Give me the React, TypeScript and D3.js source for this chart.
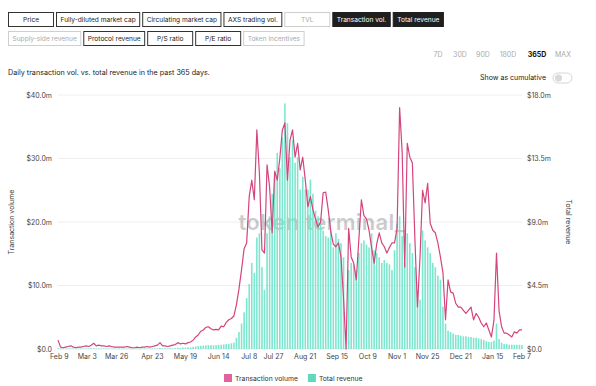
import * as d3 from 'd3';

// daily data sampled every second day, Feb 8 2021 -> Feb 7 2022
const startDate = new Date(2021, 1, 8);
const stepDays = 2;

// $m, left axis
const transactionVolume = [
  1.4, 0.3, 0.2, 0.3, 0.4, 0.5, 0.3, 0.2, 0.3, 0.3,
  0.4, 0.5, 0.4, 0.6, 0.9, 0.5, 0.6, 0.5, 0.5, 0.4,
  0.5, 0.4, 0.3, 0.3, 0.3, 0.3, 0.3, 0.4, 0.3, 0.2,
  0.2, 0.3, 0.2, 0.3, 0.3, 0.4, 0.3, 0.4, 0.5, 0.6,
  1.0, 0.5, 0.5, 0.4, 0.5, 0.6, 0.7, 1.0, 0.8, 0.9,
  0.8, 1.0, 1.1, 1.4, 1.9, 2.2, 2.8, 3.0, 3.4, 3.5,
  3.2, 3.0, 3.1, 3.0, 3.6, 3.5, 4.2, 4.6, 4.8, 5.2,
  7.0, 9.5, 12.5, 15.8, 16.7, 24.0, 26.6, 23.5, 34.5, 27.7,
  15.6, 15.1, 29.0, 25.5, 18.3, 28.0, 26.6, 30.0, 34.5, 35.6,
  26.6, 32.9, 34.5, 30.2, 32.4, 28.2, 30.2, 26.6, 22.4, 24.0,
  21.9, 20.5, 19.2, 20.0, 24.6, 24.7, 21.9, 18.5, 16.5, 16.1,
  16.7, 14.5, 8.0, 0.0, 19.0, 14.5, 13.5, 10.9, 17.2, 23.5,
  21.0, 20.5, 18.7, 16.0, 13.5, 16.5, 18.3, 16.7, 16.1, 15.1,
  16.0, 16.7, 16.7, 19.0, 38.0, 31.0, 12.9, 32.4, 30.2, 29.3,
  17.2, 6.6, 14.5, 25.0, 23.0, 26.1, 19.8, 18.7, 18.3, 16.7,
  14.5, 12.0, 4.6, 10.9, 9.0, 8.8, 7.2, 6.6, 6.6, 6.1,
  5.6, 6.1, 6.6, 4.6, 5.6, 5.0, 4.1, 3.5, 4.1, 3.0,
  1.9, 4.5, 15.1, 6.0, 3.5, 2.5, 2.5, 2.2, 1.9, 2.7,
  2.5, 3.0, 3.0,
];

// $m, right axis
const totalRevenue = [
  0.05, 0.03, 0.03, 0.03, 0.04, 0.04, 0.03, 0.03, 0.03, 0.03,
  0.04, 0.04, 0.04, 0.05, 0.06, 0.04, 0.05, 0.04, 0.04, 0.04,
  0.04, 0.04, 0.03, 0.03, 0.03, 0.03, 0.03, 0.03, 0.03, 0.03,
  0.03, 0.03, 0.03, 0.03, 0.03, 0.04, 0.03, 0.04, 0.04, 0.05,
  0.07, 0.05, 0.05, 0.05, 0.05, 0.05, 0.06, 0.08, 0.08, 0.1,
  0.1, 0.12, 0.12, 0.15, 0.18, 0.2, 0.22, 0.25, 0.25, 0.28,
  0.27, 0.25, 0.28, 0.3, 0.3, 0.32, 0.35, 0.35, 0.4, 0.45,
  0.8, 1.2, 1.8, 2.6, 3.6, 4.6, 6.1, 5.4, 7.9, 8.2,
  5.8, 4.2, 8.2, 9.4, 11.0, 12.5, 13.9, 12.8, 15.0, 17.4,
  16.0, 13.6, 14.8, 13.2, 13.6, 11.3, 12.2, 11.3, 11.3, 12.0,
  11.0, 9.8, 9.4, 9.1, 8.4, 8.0, 7.9, 8.4, 7.2, 8.2,
  7.8, 7.5, 6.5, 0.1, 5.6, 6.1, 6.0, 5.6, 6.8, 7.5,
  7.7, 7.4, 7.2, 8.2, 7.0, 6.8, 6.5, 6.1, 6.3, 6.1,
  6.0, 5.6, 7.0, 8.9, 9.4, 8.0, 6.1, 8.2, 7.5, 6.8,
  5.8, 4.2, 3.5, 8.4, 7.7, 7.2, 6.8, 6.1, 5.8, 5.2,
  4.9, 3.0, 1.8, 1.3, 1.2, 1.1, 1.0, 1.0, 0.95, 0.9,
  0.9, 0.85, 0.85, 0.8, 0.8, 0.75, 0.7, 0.65, 0.55, 0.5,
  0.5, 0.6, 1.8, 0.7, 0.45, 0.35, 0.35, 0.3, 0.3, 0.3,
  0.3, 0.3, 0.28,
];

const xTickDates = [
  '2021-02-09', '2021-03-03', '2021-03-26', '2021-04-23', '2021-05-19',
  '2021-06-14', '2021-07-08', '2021-07-27', '2021-08-21', '2021-09-15',
  '2021-10-09', '2021-11-01', '2021-11-25', '2021-12-21', '2022-01-15', '2022-02-07',
];
const leftTicks = [0, 10, 20, 30, 40];
const rightTicks = [0, 4.5, 9, 13.5, 18];

const metricRow1 = [
  { label: 'Price', state: 'normal' },
  { label: 'Fully-diluted market cap', state: 'normal' },
  { label: 'Circulating market cap', state: 'normal' },
  { label: 'AXS trading vol.', state: 'normal' },
  { label: 'TVL', state: 'disabled' },
  { label: 'Transaction vol.', state: 'active' },
  { label: 'Total revenue', state: 'active' },
];
const metricRow2 = [
  { label: 'Supply-side revenue', state: 'disabled' },
  { label: 'Protocol revenue', state: 'normal' },
  { label: 'P/S ratio', state: 'normal' },
  { label: 'P/E ratio', state: 'normal' },
  { label: 'Token incentives', state: 'disabled' },
];
const ranges = ['7D', '30D', '90D', '180D', '365D', 'MAX'];

const LINE_COLOR = '#d3457c';
const BAR_COLOR = '#6fe3c9';
const FONT = 'Inter, "Noto Sans", sans-serif';
const BTN_FONT_SIZE = 6.6;

const measureCtx = typeof document !== 'undefined' ? document.createElement('canvas').getContext('2d') : null;
function textWidth(s: string, size: number) {
  if (!measureCtx) return s.length * size * 0.5;
  measureCtx.font = `${size}px Inter`;
  return measureCtx.measureText(s).width;
}

function ButtonRow({ items, y }: { items: { label: string; state: string }[]; y: number }) {
  let cx = 8;
  return (
    <g>
      {items.map((b) => {
        const w = Math.max(45, textWidth(b.label, BTN_FONT_SIZE) + 8);
        const x0 = cx;
        cx += w + 3;
        const active = b.state === 'active';
        const disabled = b.state === 'disabled';
        return (
          <g key={b.label} transform={`translate(${x0},${y})`}>
            <rect
              x={0.5}
              y={0.5}
              width={w}
              height={14}
              fill={active ? '#1f1f1f' : '#fff'}
              stroke={active ? '#1f1f1f' : disabled ? '#cfcfcf' : '#333'}
              strokeWidth={1}
            />
            <text
              x={w / 2 + 0.5}
              y={10.3}
              textAnchor="middle"
              fontSize={BTN_FONT_SIZE}
              fill={active ? '#fff' : disabled ? '#aaa' : '#222'}
            >
              {b.label}
            </text>
          </g>
        );
      })}
    </g>
  );
}

export default function App() {
  const width = 596;
  const height = 386;
  const plot = { left: 58, right: 522, top: 95, bottom: 349 };

  const dates = transactionVolume.map((_, i) => d3.timeDay.offset(startDate, i * stepDays));
  const x = d3
    .scaleTime()
    .domain([startDate, dates[dates.length - 1]])
    .range([plot.left, plot.right]);
  const yLeft = d3.scaleLinear().domain([0, 40]).range([plot.bottom, plot.top]);
  const yRight = d3.scaleLinear().domain([0, 18]).range([plot.bottom, plot.top]);
  const parse = d3.timeParse('%Y-%m-%d');
  const fmtTick = d3.timeFormat('%b %-d');

  const line = d3
    .line<number>()
    .x((_, i) => x(dates[i]))
    .y((d) => yLeft(d))
    .curve(d3.curveLinear);

  const barW = 1.6;
  const legendSize = 6.8;
  const legend1W = textWidth('Transaction volume', legendSize);

  return (
    <div style={{ position: 'absolute', left: 0, top: 0 }}>
      <svg width={width} height={height} fontFamily={FONT} style={{ display: 'block', background: '#fff' }}>
        <ButtonRow items={metricRow1} y={12} />
        <ButtonRow items={metricRow2} y={31} />

        {/* time range */}
        {ranges.map((r, i) => (
          <text
            key={r}
            x={438 + [0, 22, 45, 70, 99, 125][i]}
            y={57}
            textAnchor="middle"
            fontSize={7}
            fontWeight={r === '365D' ? 700 : 400}
            fill={r === '365D' ? '#111' : '#aaa'}
          >
            {r}
          </text>
        ))}

        <text x={8} y={75} fontSize={7.2} fill="#222">
          Daily transaction vol. vs. total revenue in the past 365 days.
        </text>
        <text x={546} y={80} fontSize={7} fill="#222" textAnchor="end">
          Show as cumulative
        </text>
        <rect x={553} y={73} width={19} height={10} rx={5} fill="#fff" stroke="#d6d6d6" />
        <circle cx={558.5} cy={78} r={3.6} fill="#d9d9d9" />

        {/* gridlines */}
        {leftTicks.map((t) => (
          <line key={t} x1={plot.left} x2={plot.right} y1={yLeft(t)} y2={yLeft(t)} stroke="#eeeeee" strokeWidth={1} />
        ))}

        {/* watermark */}
        <text x={322} y={230} textAnchor="middle" fontSize={22} fontWeight={600} fill="#000" opacity={0.2} letterSpacing={0.3}>
          token terminal_
        </text>

        {/* revenue bars */}
        {totalRevenue.map((v, i) => (
          <rect
            key={i}
            x={x(dates[i]) - barW / 2}
            y={yRight(v)}
            width={barW}
            height={Math.max(0.6, plot.bottom - yRight(v))}
            fill={BAR_COLOR}
            opacity={0.9}
          />
        ))}

        {/* transaction volume line */}
        <path d={line(transactionVolume) || ''} fill="none" stroke={LINE_COLOR} strokeWidth={1.2} strokeLinejoin="round" />

        {/* left axis */}
        {leftTicks.map((t) => (
          <text key={t} x={52} y={yLeft(t) + 2.5} textAnchor="end" fontSize={7} fill="#444">
            {t === 0 ? '$0.0' : `$${t.toFixed(1)}m`}
          </text>
        ))}
        <text transform={`translate(14,${(plot.top + plot.bottom) / 2}) rotate(-90)`} textAnchor="middle" fontSize={7} fill="#444">
          Transaction volume
        </text>

        {/* right axis */}
        {rightTicks.map((t) => (
          <text key={t} x={527} y={yRight(t) + 2.5} textAnchor="start" fontSize={7} fill="#444">
            {t === 0 ? '$0.0' : `$${t.toFixed(1)}m`}
          </text>
        ))}
        <text transform={`translate(566,${(plot.top + plot.bottom) / 2}) rotate(90)`} textAnchor="middle" fontSize={7} fill="#444">
          Total revenue
        </text>

        {/* x axis labels */}
        {xTickDates.map((d) => {
          const dt = parse(d) as Date;
          return (
            <text key={d} x={x(dt)} y={359} textAnchor="middle" fontSize={7} fill="#444">
              {fmtTick(dt)}
            </text>
          );
        })}

        {/* legend */}
        <rect x={224} y={374} width={8} height={8} fill="#e0649a" />
        <text x={235} y={381} fontSize={legendSize} fill="#333">Transaction volume</text>
        <rect x={235 + legend1W + 10} y={374} width={8} height={8} fill="#62d9bd" />
        <text x={235 + legend1W + 21} y={381} fontSize={legendSize} fill="#333">Total revenue</text>
      </svg>
    </div>
  );
}
